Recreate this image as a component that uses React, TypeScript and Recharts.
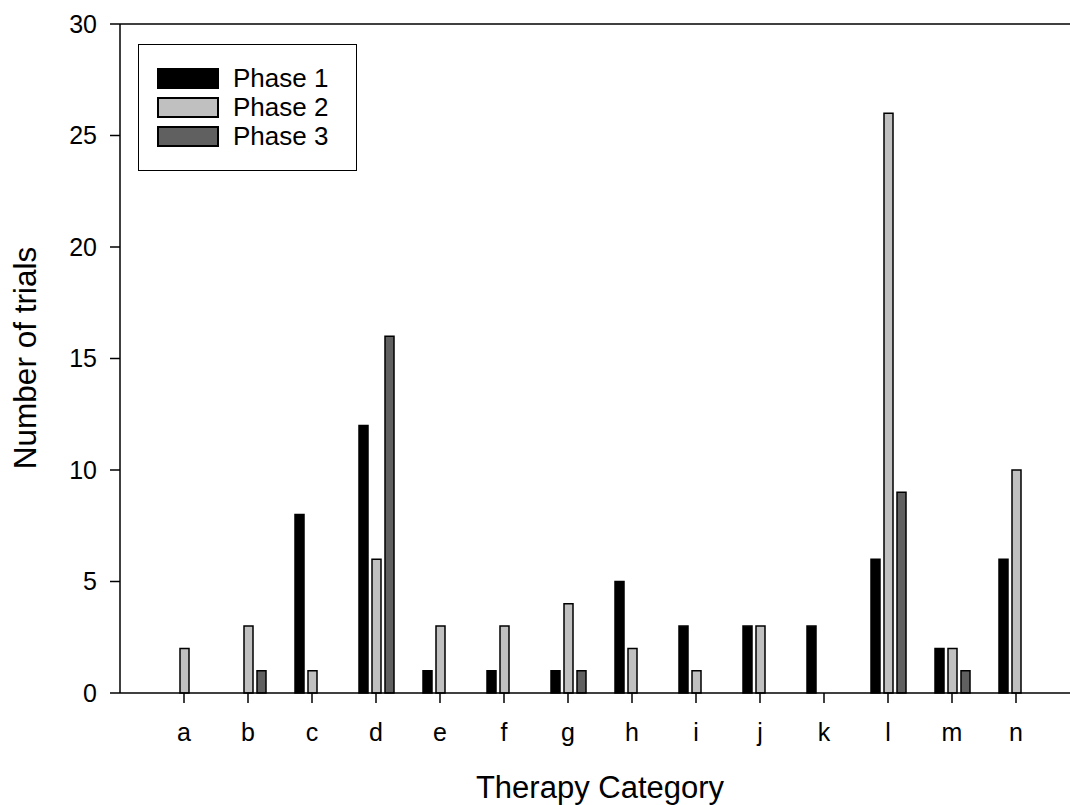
import React from 'react';
import {
  BarChart,
  Bar,
  XAxis,
  YAxis,
  Legend,
  Label,
  ReferenceLine,
} from 'recharts';

// ---- data ----
const categories = ['a', 'b', 'c', 'd', 'e', 'f', 'g', 'h', 'i', 'j', 'k', 'l', 'm', 'n'];
const phase1 = [0, 0, 8, 12, 1, 1, 1, 5, 3, 3, 3, 6, 2, 6];
const phase2 = [2, 3, 1, 6, 3, 3, 4, 2, 1, 3, 0, 26, 2, 10];
const phase3 = [0, 1, 0, 16, 0, 0, 1, 0, 0, 0, 0, 9, 1, 0];
const yTicks = [0, 5, 10, 15, 20, 25, 30];

const seriesNames = ['Phase 1', 'Phase 2', 'Phase 3'];
const seriesColors = ['#000000', '#c0c0c0', '#606060'];

const chartData = categories.map((c, i) => ({
  name: c,
  p1: phase1[i],
  p2: phase2[i],
  p3: phase3[i],
}));

const FONT = '"Liberation Sans", Arial, sans-serif';

// boxed legend in the top-left corner, like the original
const renderLegend = () => (
  <div
    style={{
      boxSizing: 'border-box',
      width: 219,
      height: 127,
      border: '1.5px solid #000',
      background: '#fff',
      padding: '19px 0 19px 18px',
      fontFamily: FONT,
      fontSize: 26,
      color: '#000',
    }}>
    {seriesNames.map((name, i) => (
      <div key={name} style={{display: 'flex', alignItems: 'center', height: 29}}>
        <span
          style={{
            boxSizing: 'border-box',
            display: 'inline-block',
            width: 62,
            height: 21,
            background: seriesColors[i],
            border: '2px solid #000',
            marginRight: 14,
          }}
        />
        <span style={{lineHeight: '29px'}}>{name}</span>
      </div>
    ))}
  </div>
);

const YTitle = () => (
  <text
    x={36}
    y={358}
    transform="rotate(-90 36 358)"
    textAnchor="middle"
    fontFamily={FONT}
    fontSize={31.5}
    fill="#000">
    Number of trials
  </text>
);

export default function App() {
  return (
    <div style={{width: 1070, height: 805, overflow: 'hidden', background: '#fff'}}>
      <style>{'body{margin:0}'}</style>
      <BarChart
        width={1070}
        height={805}
        data={chartData}
        margin={{top: 24, right: -10, left: 20, bottom: 0}}
        barSize={9}
        barGap={4}>
        <XAxis
          dataKey="name"
          height={112}
          padding={{left: 32, right: 32}}
          stroke="#000"
          strokeWidth={1.5}
          tickSize={10}
          tickMargin={20}
          tick={{fill: '#000', fontSize: 25, fontFamily: FONT}}
          interval={0}>
          <Label
            value="Therapy Category"
            position="insideBottom"
            offset={7}
            fill="#000"
            fontSize={31}
            fontFamily={FONT}
          />
        </XAxis>
        <YAxis
          width={100}
          domain={[0, 30]}
          ticks={yTicks}
          stroke="#000"
          strokeWidth={1.5}
          tickSize={10}
          tickMargin={13}
          tick={{fill: '#000', fontSize: 25, fontFamily: FONT}}>
          <Label content={() => <YTitle />} />
        </YAxis>
        <ReferenceLine y={30} stroke="#000" strokeWidth={1.5} />
        <Legend
          layout="vertical"
          align="center"
          verticalAlign="middle"
          content={renderLegend}
          wrapperStyle={{left: 138, top: 44, width: 219, height: 127}}
        />
        <Bar dataKey="p1" name={seriesNames[0]} fill={seriesColors[0]} stroke="#000" strokeWidth={1.5} isAnimationActive={false} />
        <Bar dataKey="p2" name={seriesNames[1]} fill={seriesColors[1]} stroke="#000" strokeWidth={1.5} isAnimationActive={false} />
        <Bar dataKey="p3" name={seriesNames[2]} fill={seriesColors[2]} stroke="#000" strokeWidth={1.5} isAnimationActive={false} />
      </BarChart>
    </div>
  );
}
